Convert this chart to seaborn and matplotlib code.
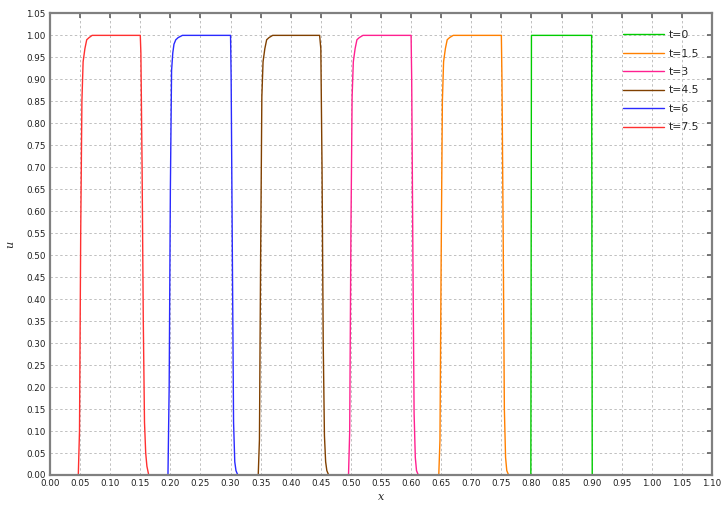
#! /usr/bin/env python3
'''
Advected square pulse profiles u(x) at several times
'''

# imports
import matplotlib
matplotlib.use('Agg')
import matplotlib.pyplot as plt
import numpy as np
import pandas as pd
import seaborn as sns

# data (x, u) per time
labels = ['t=0', 't=1.5', 't=3', 't=4.5', 't=6', 't=7.5']
colors = ['#00cc00', '#ff8000', '#ff2090', '#804000', '#2a2aff', '#ff3030']

x_t0 = [0.0, 0.799, 0.800, 0.900, 0.901, 1.0]
u_t0 = [0.0, 0.0, 1.0, 1.0, 0.0, 0.0]

x_t15 = [0.0, 0.646, 0.648, 0.650, 0.652, 0.654, 0.657, 0.660, 0.664, 0.670,
         0.750, 0.751, 0.753, 0.755, 0.757, 0.759, 0.762, 1.0]
u_t15 = [0.0, 0.0, 0.08, 0.50, 0.85, 0.94, 0.97, 0.99, 0.995, 1.0,
         1.0, 0.90, 0.55, 0.15, 0.04, 0.01, 0.0, 0.0]

x_t3 = [0.0, 0.496, 0.498, 0.500, 0.502, 0.504, 0.507, 0.510, 0.514, 0.520,
        0.600, 0.601, 0.603, 0.605, 0.607, 0.609, 0.612, 1.0]
u_t3 = [0.0, 0.0, 0.10, 0.55, 0.86, 0.94, 0.97, 0.99, 0.995, 1.0,
        1.0, 0.90, 0.50, 0.14, 0.04, 0.01, 0.0, 0.0]

x_t45 = [0.0, 0.346, 0.348, 0.350, 0.352, 0.354, 0.357, 0.360, 0.364, 0.370,
         0.448, 0.450, 0.452, 0.454, 0.456, 0.458, 0.460, 0.463, 1.0]
u_t45 = [0.0, 0.0, 0.08, 0.50, 0.86, 0.94, 0.97, 0.99, 0.995, 1.0,
         1.0, 0.97, 0.70, 0.30, 0.09, 0.03, 0.01, 0.0, 0.0]

x_t6 = [0.0, 0.196, 0.198, 0.200, 0.202, 0.204, 0.206, 0.209, 0.213, 0.220,
        0.300, 0.301, 0.303, 0.305, 0.307, 0.309, 0.312, 1.0]
u_t6 = [0.0, 0.0, 0.20, 0.65, 0.92, 0.96, 0.98, 0.99, 0.995, 1.0,
        1.0, 0.90, 0.50, 0.12, 0.03, 0.01, 0.0, 0.0]

x_t75 = [0.0, 0.047, 0.049, 0.051, 0.053, 0.055, 0.058, 0.061, 0.065, 0.070,
         0.150, 0.151, 0.153, 0.155, 0.157, 0.159, 0.161, 0.164, 1.0]
u_t75 = [0.0, 0.0, 0.10, 0.55, 0.85, 0.94, 0.97, 0.99, 0.995, 1.0,
         1.0, 0.96, 0.70, 0.35, 0.12, 0.05, 0.02, 0.0, 0.0]

# build long table
xs = [x_t0, x_t15, x_t3, x_t45, x_t6, x_t75]
us = [u_t0, u_t15, u_t3, u_t45, u_t6, u_t75]
frames = []
for lab, x, u in zip(labels, xs, us):
    frames.append(pd.DataFrame({'x': x, 'u': u, 't': lab}))
df = pd.concat(frames, ignore_index=True)

# plot
sns.set_style('white')
plt.rcParams['font.family'] = ['DejaVu Sans']
fig = plt.figure(figsize=(7.28, 5.15), dpi=100)
ax = fig.add_axes([0.0687, 0.0777, 0.9093, 0.8963])
sns.lineplot(data=df, x='x', y='u', hue='t', hue_order=labels, palette=colors,
             estimator=None, sort=False, units='t', linewidth=1.0, ax=ax)

ticks_x = np.arange(0, 1.1001, 0.05)
ticks_y = np.arange(0, 1.0501, 0.05)
ax.set_xlim(0, 1.10)
ax.set_ylim(0, 1.05)
ax.set_xticks(ticks_x)
ax.set_yticks(ticks_y)
ax.set_xticklabels(['%.2f' % v for v in ticks_x])
ax.set_yticklabels(['%.2f' % v for v in ticks_y])
ax.tick_params(axis='both', direction='in', length=3.5, width=1.2, color='#606060',
               labelsize=6.3, labelcolor='#202020', pad=3, top=True, right=True)
ax.grid(True, linestyle=(0, (2.5, 2.5)), color='#c0c0c0', linewidth=0.7)
for s in ax.spines.values():
    s.set_color('#808080')
    s.set_linewidth(1.6)
ax.set_xlabel('x', family='DejaVu Serif', style='italic', fontsize=8, labelpad=3)
ax.set_ylabel('u', family='DejaVu Serif', style='italic', fontsize=8, labelpad=8)

leg = ax.legend(loc='upper right', bbox_to_anchor=(0.995, 0.985), frameon=False,
                fontsize=7.8, handlelength=3.8, handletextpad=0.4, labelspacing=0.78)

fig.savefig('out.png', dpi=100)
